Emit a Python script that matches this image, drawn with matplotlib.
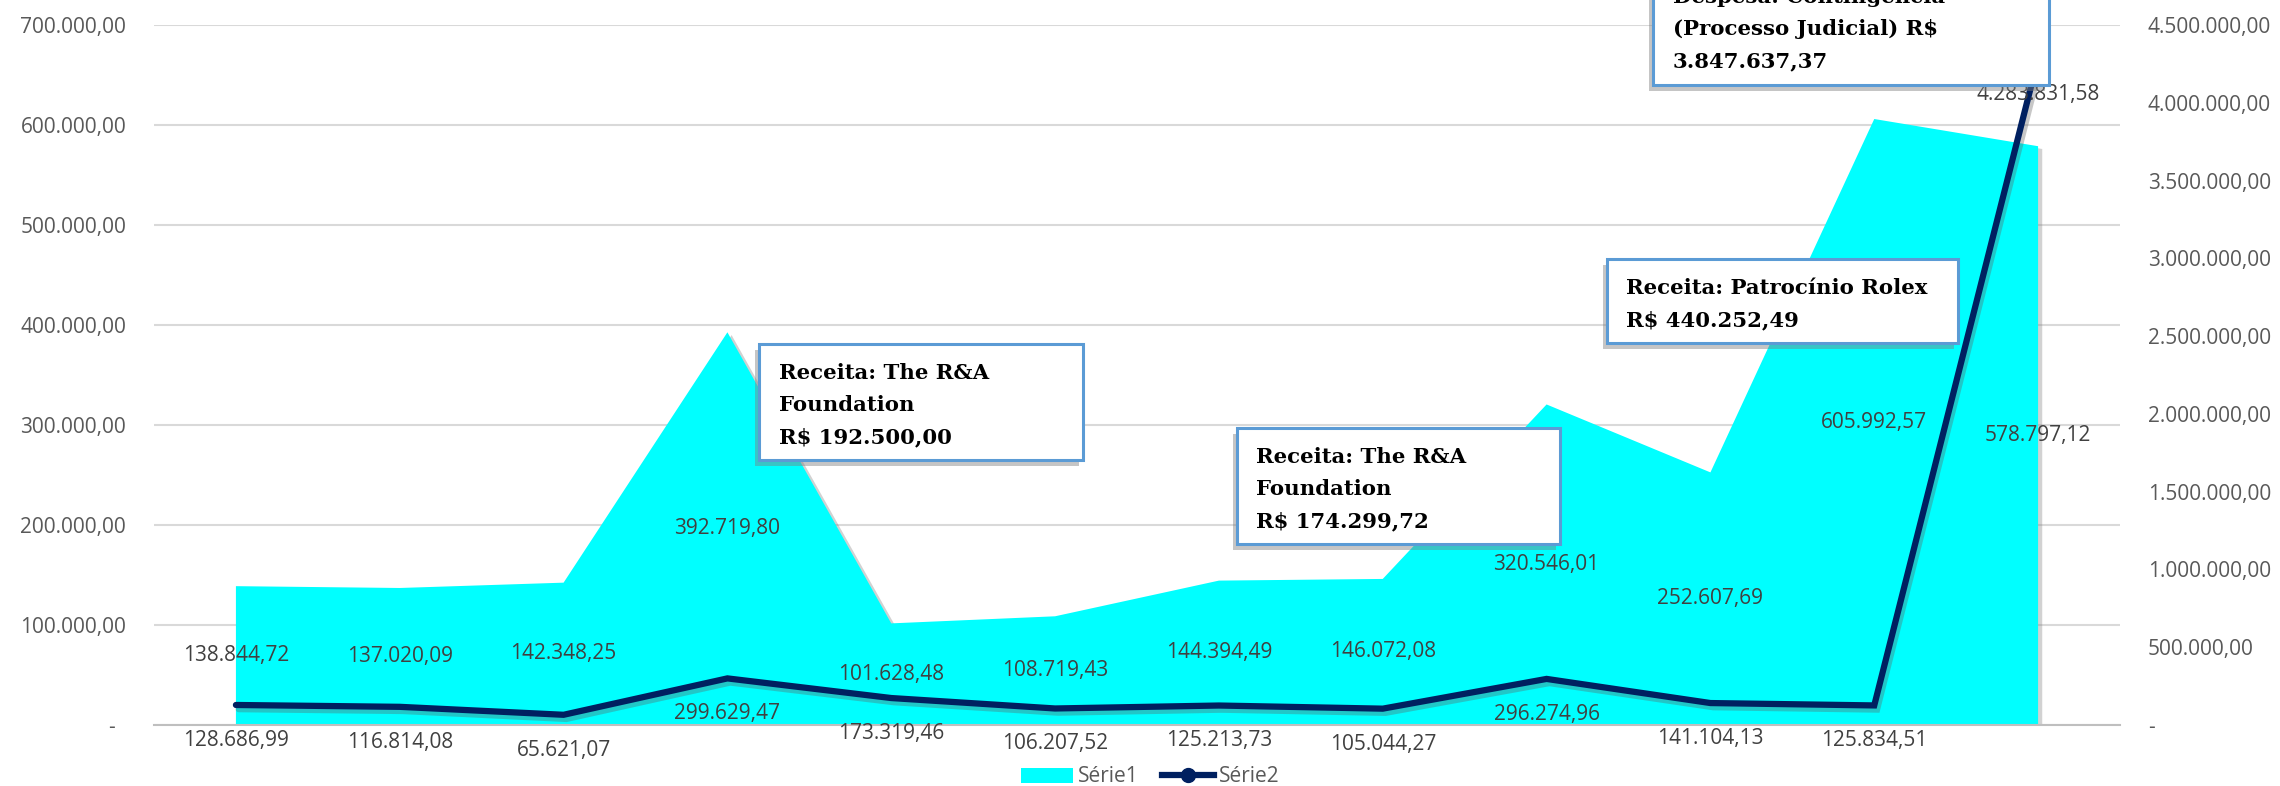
import numpy as np
import matplotlib
matplotlib.use("Agg")
import matplotlib.pyplot as plt
from matplotlib.patches import Rectangle, Patch
from matplotlib.lines import Line2D
import matplotlib.patheffects as pe
from matplotlib.ticker import FuncFormatter, MultipleLocator

# ---------------- data ----------------
categories = ["1", "2", "3", "4", "5", "6", "7", "8", "9", "10", "11", "12"]
serie1 = [138844.72, 137020.09, 142348.25, 392719.80, 101628.48, 108719.43,
          144394.49, 146072.08, 320546.01, 252607.69, 605992.57, 578797.12]
serie2 = [128686.99, 116814.08, 65621.07, 299629.47, 173319.46, 106207.52,
          125213.73, 105044.27, 296274.96, 141104.13, 125834.51, 4283831.58]
series_names = ["Série1", "Série2"]

note1 = ["Receita: The R&A", "Foundation", "R$ 192.500,00"]
note2 = ["Receita: The R&A", "Foundation", "R$ 174.299,72"]
note3 = ["Receita: Patrocínio Rolex", "R$ 440.252,49"]
note4 = ["Despesa: Contingência", "(Processo Judicial) R$", "3.847.637,37"]

# ---------------- style ----------------
W, H = 2280, 786
DPI = 100
AREA_C = "#00FFFF"
LINE_C = "#002060"
TICK_C = "#595959"
LAB_C = "#404040"
GRID_C = "#D9D9D9"
BOX_EC = "#5B9BD5"
SANS = ["Open Sans", "DejaVu Sans"]
SERIF = ["DejaVu Serif"]
FS = 15


def br(v):
    s = f"{v:,.2f}"
    return s.replace(",", "X").replace(".", ",").replace("X", ".")


fig = plt.figure(figsize=(W / DPI, H / DPI), dpi=DPI)
fig.patch.set_facecolor("white")


def fx(px):
    return px / W


def fy(py):
    return 1 - py / H


ax = fig.add_axes([fx(154), fy(725), fx(2120) - fx(154), fy(25) - fy(725)])
ax2 = ax.twinx()

x = np.arange(len(categories))

# area series
poly = ax.fill_between(x, 0, serie1, color=AREA_C, linewidth=0, zorder=2)
poly.set_path_effects([pe.SimplePatchShadow(offset=(3, -2), shadow_rgbFace="#808080", alpha=0.35),
                       pe.Normal()])

ax.set_xlim(-0.5, len(categories) - 0.5)
ax.set_ylim(0, 700000)
ax.yaxis.set_major_locator(MultipleLocator(100000))
ax.yaxis.set_major_formatter(FuncFormatter(lambda v, p: "-  " if v == 0 else br(v)))
ax.grid(axis="y", color=GRID_C, linewidth=1.5, zorder=0)
ax.set_axisbelow(True)
ax.set_xticks([])
for s in ["top", "left", "right"]:
    ax.spines[s].set_visible(False)
ax.spines["bottom"].set_color("#BFBFBF")
ax.spines["bottom"].set_linewidth(1.5)
ax.spines["bottom"].set_zorder(3)
ax.tick_params(axis="y", length=0, pad=20, labelsize=FS, labelcolor=TICK_C)
for t in ax.get_yticklabels():
    t.set_family(SANS)

# line series
ax2.plot(x, serie2, color=LINE_C, linewidth=4.5, solid_capstyle="round",
         solid_joinstyle="miter", zorder=3,
         path_effects=[pe.SimpleLineShadow(offset=(2, -3), shadow_color="#606060", alpha=0.35),
                       pe.Normal()])
ax2.set_ylim(0, 4500000)
ax2.yaxis.set_major_locator(MultipleLocator(500000))
ax2.yaxis.set_major_formatter(FuncFormatter(lambda v, p: "-" if v == 0 else br(v)))
for s in ["top", "left", "right", "bottom"]:
    ax2.spines[s].set_visible(False)
ax2.tick_params(axis="y", length=0, pad=20, labelsize=FS, labelcolor=TICK_C)
for t in ax2.get_yticklabels():
    t.set_family(SANS)

# data labels
for xi, v in zip(x, serie1):
    ax.text(xi, v / 2, br(v), ha="center", va="center", fontsize=FS,
            color=LAB_C, family=SANS, zorder=4)
for xi, v in zip(x, serie2):
    ax2.annotate(br(v), (xi, v), xytext=(0, -25.5), textcoords="offset points",
                 ha="center", va="center", fontsize=FS, color=LAB_C,
                 family=SANS, zorder=5)


# callout boxes (figure-pixel placement)
def callout(left, top, right, bottom, lines, first_base, text_left, step=32):
    r = Rectangle((fx(left), fy(bottom)), fx(right) - fx(left), fy(top) - fy(bottom),
                  transform=fig.transFigure, facecolor="white", edgecolor=BOX_EC,
                  linewidth=2.2, zorder=10)
    r.set_path_effects([pe.SimplePatchShadow(offset=(-3, -4), shadow_rgbFace="#7F7F7F", alpha=0.45),
                        pe.Normal()])
    fig.patches.append(r)
    for i, ln in enumerate(lines):
        fig.text(fx(text_left), fy(first_base + i * step), ln, ha="left", va="baseline",
                 fontsize=15.3, fontweight="bold", family=SERIF, color="black", zorder=11)


callout(759, 344, 1083, 460, note1, 379, 779)
callout(1237, 428, 1560, 544, note2, 463, 1256)
callout(1607, 259, 1958, 343, note3, 294, 1626)
callout(1653, -32, 2049, 85, note4, 3, 1673)

# legend
handles = [Patch(facecolor=AREA_C, edgecolor="none"),
           Line2D([0], [0], color=LINE_C, linewidth=4.5, marker="o", markersize=10,
                  markerfacecolor=LINE_C, markeredgecolor=LINE_C)]
leg = fig.legend(handles, series_names, loc="center", bbox_to_anchor=(fx(1150), fy(777)),
                 ncol=2, frameon=False, fontsize=FS, handlelength=2.5, handleheight=0.7,
                 handletextpad=0.25, columnspacing=1.1, prop={"family": SANS, "size": FS})
for t in leg.get_texts():
    t.set_color(TICK_C)

fig.savefig("out.png", dpi=DPI, facecolor="white")
